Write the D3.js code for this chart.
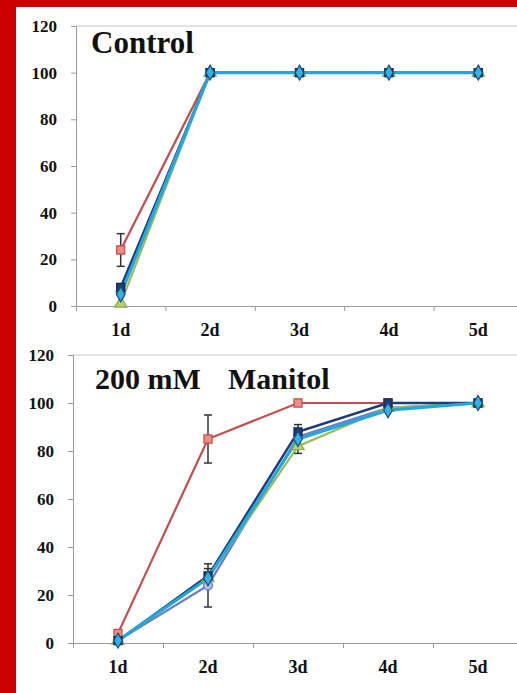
<!DOCTYPE html>
<html lang="en">
<head>
  <meta charset="UTF-8" />
  <title>Germination: Control vs 200 mM Manitol</title>
  <script src="https://d3js.org/d3.v7.min.js"></script>
  <style>
    body { margin: 0; padding: 0; background: #cc0000; }
    #chart { width: 517px; height: 693px; }
    text { font-family: "Liberation Serif", "DejaVu Serif", serif; font-weight: bold; fill: #111; }
  </style>
</head>
<body>
  <div id="chart"></div>
  <script>
    // categories + ticks
    const days = ["1d", "2d", "3d", "4d", "5d"];
    const yTicks = [0, 20, 40, 60, 80, 100, 120];

    // Control panel
    const ctrlRed      = [24, 100, 100, 100, 100];
    const ctrlRedErr   = [7, 0, 0, 0, 0];
    const ctrlLav      = [6, 100, 100, 100, 100];
    const ctrlGreen    = [1, 100, 100, 100, 100];
    const ctrlNavy     = [8, 100, 100, 100, 100];
    const ctrlCyan     = [5, 100, 100, 100, 100];

    // 200 mM Manitol panel
    const manRed       = [4, 85, 100, 100, 100];
    const manRedErr    = [0, 10, 0, 0, 0];
    const manLav       = [1, 24, 86, 98, 100];
    const manLavErr    = [0, 9, 0, 0, 0];
    const manGreen     = [1, 27, 82, 98, 100];
    const manGreenErr  = [0, 0, 3, 0, 0];
    const manNavy      = [1, 28, 88, 100, 100];
    const manNavyErr   = [0, 3, 3, 0, 0];
    const manCyan      = [1, 27, 85, 97, 100];

    // series styling (drawing order: last one on top)
    const styles = {
      red:   { line: "#c0504d", fill: "#f08a84", stroke: "#c0504d", shape: d3.symbolSquare,   w: 2.2 },
      lav:   { line: "#6b7cc4", fill: "#b4bff0", stroke: "#6b7cc4", shape: d3.symbolCircle,   w: 2.2 },
      green: { line: "#9bbb59", fill: "#b5d36b", stroke: "#8aa84a", shape: d3.symbolTriangle, w: 2.2 },
      navy:  { line: "#1f3b73", fill: "#1f3b73", stroke: "#142a55", shape: d3.symbolSquare,   w: 2.4 },
      cyan:  { line: "#22a8dc", fill: "#2fb3e6", stroke: "#1f4e79", shape: d3.symbolDiamond,  w: 3.2 }
    };

    const svg = d3.select("#chart").append("svg")
      .attr("width", 517).attr("height", 693);

    // white sheet over the red frame
    svg.append("rect").attr("x", 16).attr("y", 7)
      .attr("width", 501).attr("height", 686).attr("fill", "#ffffff");

    function panel(cfg) {
      const x = d3.scaleLinear().domain([0, 5]).range([cfg.left, cfg.right]);
      const y = d3.scaleLinear().domain([0, 120]).range([cfg.bottom, cfg.top]);
      const cx = i => x(i + 0.5);
      const g = svg.append("g");

      // top border of plot area
      g.append("line")
        .attr("x1", cfg.left).attr("x2", cfg.right)
        .attr("y1", y(120)).attr("y2", y(120))
        .attr("stroke", "#c8c8c8").attr("stroke-width", 1);

      const yAxis = g.append("g")
        .attr("transform", `translate(${cfg.left},0)`)
        .call(d3.axisLeft(y).tickValues(yTicks).tickSize(5).tickPadding(14));
      yAxis.selectAll("text").style("font-size", "17px");

      g.append("g")
        .attr("transform", `translate(0,${cfg.bottom})`)
        .call(d3.axisBottom(x).tickValues([0, 1, 2, 3, 4, 5]).tickSize(5).tickFormat(""));

      g.selectAll(".domain, .tick line").attr("stroke", "#9a9a9a");

      g.selectAll(".xlab").data(days).enter().append("text")
        .attr("x", (d, i) => cx(i))
        .attr("y", cfg.bottom + 30)
        .attr("text-anchor", "middle")
        .style("font-size", "18px")
        .text(d => d);

      const line = d3.line().x((d, i) => cx(i)).y(d => y(d));

      cfg.series.forEach(s => {
        const st = styles[s.key];
        g.append("path").datum(s.vals)
          .attr("fill", "none").attr("stroke", st.line)
          .attr("stroke-width", st.w).attr("d", line);
      });

      // error bars
      cfg.series.forEach(s => {
        if (!s.err) return;
        s.err.forEach((e, i) => {
          if (!e) return;
          const v = s.vals[i];
          const eg = g.append("g").attr("stroke", "#333").attr("stroke-width", 1.5);
          eg.append("line").attr("x1", cx(i)).attr("x2", cx(i))
            .attr("y1", y(v - e)).attr("y2", y(v + e));
          [v - e, v + e].forEach(t => eg.append("line")
            .attr("x1", cx(i) - 4).attr("x2", cx(i) + 4)
            .attr("y1", y(t)).attr("y2", y(t)));
        });
      });

      cfg.series.forEach(s => {
        const st = styles[s.key];
        g.selectAll(null).data(s.vals).enter().append("path")
          .attr("transform", (d, i) => `translate(${cx(i)},${y(d)})`)
          .attr("d", d3.symbol().type(st.shape).size(65))
          .attr("fill", st.fill).attr("stroke", st.stroke).attr("stroke-width", 1.2);
      });

      cfg.title.forEach(t => {
        g.append("text").attr("x", t.x).attr("y", t.y)
          .style("font-size", t.size + "px").text(t.text);
      });
    }

    panel({
      left: 76, right: 523, top: 26, bottom: 306,
      series: [
        { key: "red",   vals: ctrlRed,   err: ctrlRedErr },
        { key: "lav",   vals: ctrlLav },
        { key: "green", vals: ctrlGreen },
        { key: "navy",  vals: ctrlNavy },
        { key: "cyan",  vals: ctrlCyan }
      ],
      title: [{ text: "Control", x: 91, y: 53, size: 31 }]
    });

    panel({
      left: 73, right: 523, top: 355, bottom: 643,
      series: [
        { key: "red",   vals: manRed,   err: manRedErr },
        { key: "lav",   vals: manLav,   err: manLavErr },
        { key: "green", vals: manGreen, err: manGreenErr },
        { key: "navy",  vals: manNavy,  err: manNavyErr },
        { key: "cyan",  vals: manCyan }
      ],
      title: [
        { text: "200 mM", x: 95, y: 389, size: 30 },
        { text: "Manitol", x: 228, y: 389, size: 30 }
      ]
    });
  </script>
</body>
</html>
